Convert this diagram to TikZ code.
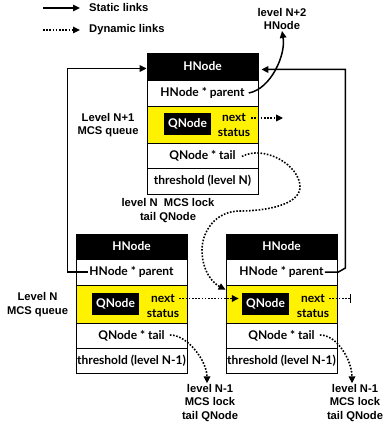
\documentclass[tikz,border=0pt]{standalone}
\usepackage{fontspec}
\setmainfont{Liberation Sans}
\newfontfamily\boxfont{Lato}
\usetikzlibrary{arrows.meta,calc}
\begin{document}
\begin{tikzpicture}[x=1pt,y=-1pt,
  rowbox/.style={draw,line width=0.8pt,minimum width=111pt,inner sep=0pt},
  hdrbox/.style={rowbox,fill=black},
  yelbox/.style={rowbox,fill=yellow},
  btxt/.style={inner sep=0pt,font=\boxfont\bfseries\fontsize{12}{14}\selectfont},
  wtxt/.style={btxt,text=white},
  qnbox/.style={fill=black,text=white,minimum width=47pt,minimum height=22pt,inner sep=0pt,font=\boxfont\bfseries\fontsize{12}{14}\selectfont},
  lbl/.style={align=center,inner sep=0pt,font=\bfseries\fontsize{11.2}{13.3}\selectfont},
  slink/.style={line width=1.5pt,-{Triangle[length=7pt,width=6.5pt]}},
  dlink/.style={line width=1.6pt,dash pattern=on 1.6pt off 1.6pt,-{Triangle[length=7pt,width=6.5pt]}},
  dbar/.style={line width=1.6pt,dash pattern=on 1.6pt off 1.6pt,-{Bar[width=9pt,line width=1.5pt]}}
]
\useasboundingbox (0,0) rectangle (386,427);

% legend
\node[lbl,anchor=west] (sT) at (89,8) {Static links};
\node[lbl,anchor=west] (dT) at (89,30) {Dynamic links};
\draw[slink] ($(sT.west)+(-46,0)$) -- ($(sT.west)+(-9,0)$);
\draw[dlink] ($(dT.west)+(-46,0)$) -- ($(dT.west)+(-9,0)$);

% top box
\node[hdrbox,minimum height=27pt] (tH) at (202.5,66.5) {};
\node[wtxt] (tHt) at (tH) {HNode};
\node[rowbox,minimum height=26pt] (tP) at (202.5,93) {};
\node[btxt] (tPt) at (tP) {HNode * parent};
\node[yelbox,minimum height=37pt] (tY) at (202.5,124.5) {};
\node[qnbox] (tQ) at (187.5,124) {QNode};
\node[btxt] (tNx) at (234,118) {next};
\node[btxt] (tSt) at (234,133) {status};
\node[rowbox,minimum height=25pt] (tT) at (202.5,155.5) {};
\node[btxt] (tTt) at (tT) {QNode * tail};
\node[rowbox,minimum height=26pt] (tR) at (202.5,181) {};
\node[btxt] (tRt) at (tR) {threshold (level N)};

% bottom-left box
\node[hdrbox,minimum height=25pt] (lH) at (131.5,246.5) {};
\node[wtxt] (lHt) at (lH) {HNode};
\node[rowbox,minimum height=26pt] (lP) at (131.5,272) {};
\node[btxt] (lPt) at (lP) {HNode * parent};
\node[yelbox,minimum height=38.5pt] (lY) at (131.5,304.25) {};
\node[qnbox] (lQ) at (115.5,304) {QNode};
\node[btxt] (lNx) at (163,298.5) {next};
\node[btxt] (lSt) at (163,313.5) {status};
\node[rowbox,minimum height=25pt] (lT) at (131.5,336) {};
\node[btxt] (lTt) at (lT) {QNode * tail};
\node[rowbox,minimum height=25pt] (lR) at (131.5,361) {};
\node[btxt] (lRt) at (lR) {threshold (level N-1)};

% bottom-right box
\node[hdrbox,minimum height=25pt] (rH) at (281.5,246.5) {};
\node[wtxt] (rHt) at (rH) {HNode};
\node[rowbox,minimum height=26pt] (rP) at (281.5,272) {};
\node[btxt] (rPt) at (rP) {HNode * parent};
\node[yelbox,minimum height=38.5pt] (rY) at (281.5,304.25) {};
\node[qnbox] (rQ) at (265.5,304) {QNode};
\node[btxt] (rNx) at (313,298.5) {next};
\node[btxt] (rSt) at (313,313.5) {status};
\node[rowbox,minimum height=25pt] (rT) at (281.5,336) {};
\node[btxt] (rTt) at (rT) {QNode * tail};
\node[rowbox,minimum height=25pt] (rR) at (281.5,361) {};
\node[btxt] (rRt) at (rR) {threshold (level N-1)};

% labels
\node[lbl] (n2) at (282,19) {level N+2\\HNode};
\node[lbl] (q1) at (108,125) {Level N+1\\MCS queue};
\node[lbl] (q0) at (37.5,304.5) {Level N\\MCS queue};
\node[lbl] (lk) at (168,210.5) {level N\ \ MCS lock\\tail QNode};
\node[lbl] (bl) at (210,403) {level N-1\\MCS lock\\tail QNode};
\node[lbl] (br) at (355,403) {level N-1\\MCS lock\\tail QNode};

% static links
\draw[slink] ($(tPt.east)+(4,0)$) .. controls +(22,-4) and +(4,24) .. ($(n2.south)+(0,1)$);
\draw[slink] ($(lPt.west)+(-1,0)$) -| ($(tH.west)+(-79,2)$) -- ($(tH.west)+(0,2)$);
\draw[slink] ($(rPt.east)+(1,0)$) -- ($(rP.east)+(1,0)$) -- ($(rP.east)+(8,-4)$) |- ($(tH.east)+(3,3)$);

% dynamic links
\draw[dlink] ($(tNx.east)+(5,0)$) -- +(32,0);
\coordinate (c1) at (300,187);
\coordinate (c2) at (240,211);
\coordinate (c3) at (202,250);
\draw[dlink] ($(tTt.east)+(6,1)$) .. controls +(22,-12) and +(0,-22) .. (c1)
  .. controls +(0,18) and +(25,0) .. (c2)
  .. controls +(-25,0) and +(0,-18) .. (c3)
  .. controls +(0,22) and +(-12,-6) .. ($(rY.north west)+(0,5)$);
\draw[dlink] ($(lNx.east)+(4,0)$) -- ($(lNx.east -| rQ.west)+(-3,0)$);
\draw[dbar] ($(rNx.east)+(4,0)$) -- +(22,0);
\draw[dlink] ($(lTt.east)+(5,-1)$) .. controls +(18,0) and +(0,-22) .. ($(bl.north)+(-3,-1)$);
\draw[dlink] ($(rTt.east)+(5,-1)$) .. controls +(18,0) and +(0,-22) .. ($(br.north)+(-3,-1)$);
\end{tikzpicture}
\end{document}
